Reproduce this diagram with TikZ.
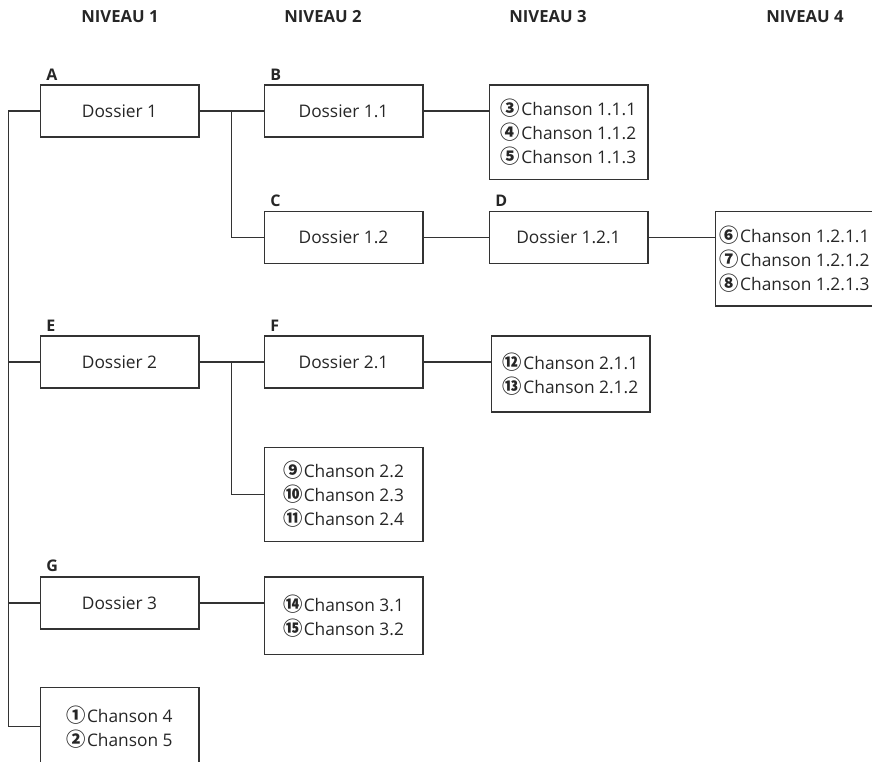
\documentclass[tikz,border=0pt]{standalone}
\usepackage{fontspec}
\setmainfont{Open Sans}
\newfontfamily\chiffres{Noto Sans CJK SC}
\usetikzlibrary{positioning,calc}
\tikzstyle{dossier}=[draw=black!80, line width=1pt, minimum width=119pt, minimum height=39pt, inner sep=3pt]
\tikzstyle{chansons}=[draw=black!80, line width=1pt, minimum width=119pt, align=left, inner xsep=2pt, inner ysep=3pt]
\tikzstyle{niveau}=[font=\fontsize{12.5}{15}\selectfont\bfseries]
\tikzstyle{lettre}=[font=\fontsize{12}{14}\selectfont\bfseries, anchor=south west, inner sep=1pt, xshift=4pt, yshift=2pt]
\tikzstyle{lien}=[draw=black!80, line width=1pt]
\newcommand{\rond}[1]{{\chiffres\fontsize{14.5}{18}\selectfont\bfseries #1}\hspace{1pt}}

\begin{document}
\begin{tikzpicture}[x=0.75pt, y=-0.75pt, font=\fontsize{13}{18}\selectfont, text=black!85]
\useasboundingbox (0,0) rectangle (872,762);
\clip (0,0) rectangle (872,762);

\foreach \i/\x in {1/120,2/323,3/548,4/805}
  \node[niveau] (n\i) at (\x,17) {NIVEAU \i};

% niveau 1
\node[dossier] (d1) at (119.5,111) {Dossier 1};
\node[dossier] (d2) at (119.5,362) {Dossier 2};
\node[dossier] (d3) at (119.5,603) {Dossier 3};
\node[chansons, minimum height=58.5pt, anchor=north] (ch4) [below=43pt of d3] {\rond{①}Chanson 4\\\rond{②}Chanson 5};

% niveau 2
\node[dossier] (d11) [right=48pt of d1] {Dossier 1.1};
\node[dossier] (d12) [below=54.75pt of d11] {Dossier 1.2};
\node[dossier] (d21) [right=48pt of d2] {Dossier 2.1};
\node[chansons, minimum height=70.5pt] (ch22) [below=43.5pt of d21] {\rond{⑨}Chanson 2.2\\\rond{⑩}Chanson 2.3\\\rond{⑪}Chanson 2.4};
\node[chansons, minimum height=58pt] (ch3) [right=48pt of d3.north east, anchor=north west] {\rond{⑭}Chanson 3.1\\\rond{⑮}Chanson 3.2};

% niveau 3
\node[chansons, minimum height=71pt] (ch11) [right=48.75pt of d11.north east, anchor=north west] {\rond{③}Chanson 1.1.1\\\rond{④}Chanson 1.1.2\\\rond{⑤}Chanson 1.1.3};
\node[dossier] (d121) [right=48.75pt of d12] {Dossier 1.2.1};
\node[chansons, minimum height=57pt] (ch21) [right=50.25pt of d21.north east, anchor=north west] {\rond{⑫}Chanson 2.1.1\\\rond{⑬}Chanson 2.1.2};

% niveau 4
\node[chansons, minimum height=71pt] (ch121) [right=49.5pt of d121.north east, anchor=north west] {\rond{⑥}Chanson 1.2.1.1\\\rond{⑦}Chanson 1.2.1.2\\\rond{⑧}Chanson 1.2.1.3};

% lettres
\node[lettre] (lA) at (d1.north west) {A};
\node[lettre] (lB) at (d11.north west) {B};
\node[lettre] (lC) at (d12.north west) {C};
\node[lettre] (lD) at (d121.north west) {D};
\node[lettre] (lE) at (d2.north west) {E};
\node[lettre] (lF) at (d21.north west) {F};
\node[lettre] (lG) at (d3.north west) {G};

% liens
\draw [lien] (d1.west) -- ++(-31,0) coordinate (tronc) |- (ch4.west);
\draw [lien] (tronc |- d2.west) -- (d2.west);
\draw [lien] (tronc |- d3.west) -- (d3.west);
\draw [lien] (d1) -- (d11);
\draw [lien] ($(d1.east)!0.5!(d11.west)$) |- (d12.west);
\draw [lien] (d11.east) -- (d11.east -| ch11.west);
\draw [lien] (d12) -- (d121);
\draw [lien] (d121.east) -- (d121.east -| ch121.west);
\draw [lien] (d2) -- (d21);
\draw [lien] ($(d2.east)!0.5!(d21.west)$) |- (ch22.west);
\draw [lien] (d21.east) -- (d21.east -| ch21.west);
\draw [lien] (d3.east) -- (d3.east -| ch3.west);

\end{tikzpicture}
\end{document}
